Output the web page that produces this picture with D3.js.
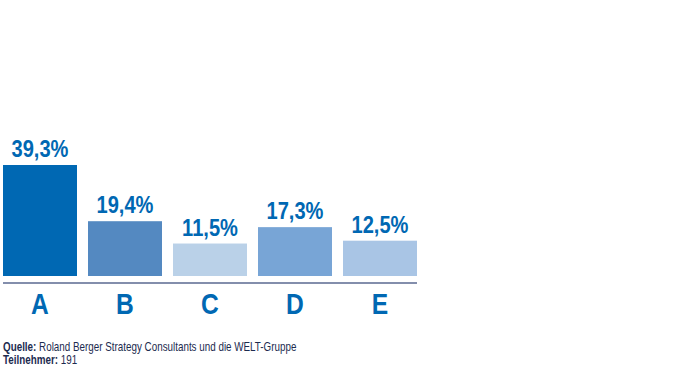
<!DOCTYPE html>
<html>
<head>
<meta charset="utf-8">
<script src="https://cdn.jsdelivr.net/npm/d3@7"></script>
<style>
  body { margin: 0; background: #fff; }
  svg { display: block; }
</style>
</head>
<body>
<script>
const categories = ["A", "B", "C", "D", "E"];
const values = [39.3, 19.4, 11.5, 17.3, 12.5];
const barColors = ["#0068b3", "#5489c1", "#bad1e8", "#78a5d6", "#a9c5e5"];
const sourceLines = [
  ["Quelle:", " Roland Berger Strategy Consultants und die WELT-Gruppe"],
  ["Teilnehmer:", " 191"]
];

const w = 700, h = 370;
const font = "'Liberation Sans', Arial, sans-serif";
const narrow = 0.82; // squeeze text to look like Arial Narrow
const svg = d3.select("body").append("svg")
  .attr("width", w)
  .attr("height", h);

const x = d3.scaleBand()
  .domain(categories)
  .range([3, 417])
  .paddingInner(11 / 85)
  .paddingOuter(0);

const y = d3.scaleLinear()
  .domain([0, 39.3])
  .range([276, 165]);

svg.selectAll("rect.bar")
  .data(values)
  .enter()
  .append("rect")
  .attr("class", "bar")
  .attr("x", (d, i) => x(categories[i]))
  .attr("y", d => y(d))
  .attr("width", x.bandwidth())
  .attr("height", d => y(0) - y(d))
  .attr("fill", (d, i) => barColors[i]);

svg.selectAll("text.val")
  .data(values)
  .enter()
  .append("text")
  .attr("class", "val")
  .attr("transform", (d, i) => "translate(" + (x(categories[i]) + x.bandwidth() / 2) + "," + (y(d) - 8) + ") scale(" + narrow + ",1)")
  .attr("text-anchor", "middle")
  .style("font-family", font)
  .style("font-weight", "bold")
  .style("font-size", "24.5px")
  .style("fill", "#0068b3")
  .text(d => d3.format(".1f")(d).replace(".", ",") + "%");

// axis
const xAxis = svg.append("g")
  .attr("transform", "translate(0,283)")
  .call(d3.axisBottom(x).tickSize(0).tickPadding(0));
xAxis.select(".domain")
  .attr("d", "M3,0H417")
  .attr("stroke", "#5a6990")
  .attr("stroke-width", 1.5);
xAxis.selectAll(".tick text")
  .attr("y", 0)
  .attr("dy", 0)
  .attr("transform", "translate(0,30.5) scale(" + narrow + ",1)")
  .style("font-family", font)
  .style("font-weight", "bold")
  .style("font-size", "30px")
  .style("fill", "#0068b3");

// source
const src = svg.append("g").attr("transform", "translate(3,350.5) scale(" + narrow + ",1)");
sourceLines.forEach((l, i) => {
  const t = src.append("text")
    .attr("y", i * 13.5)
    .style("font-family", font)
    .style("font-size", "12px")
    .style("fill", "#1c2b4f");
  t.append("tspan").style("font-weight", "bold").text(l[0]);
  t.append("tspan").text(l[1]);
});
</script>
</body>
</html>
